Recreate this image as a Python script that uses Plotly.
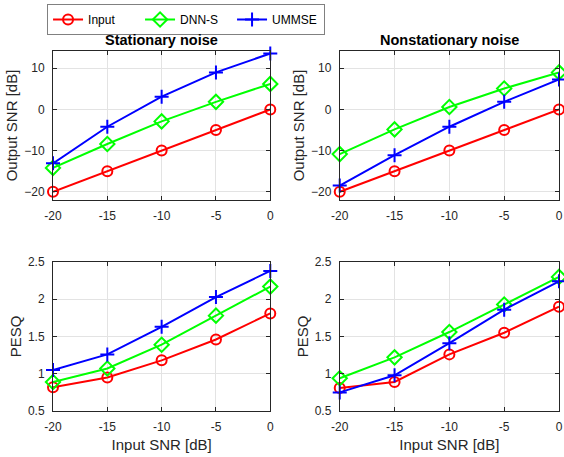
import plotly.graph_objects as go

input_snr = [-20, -15, -10, -5, 0]

# Output SNR [dB]
stat_input = [-20, -15, -10, -5, 0]
stat_dnn = [-14.2, -8.4, -2.9, 1.85, 6.2]
stat_ummse = [-13.1, -4.2, 3.1, 9.0, 13.6]

nonstat_input = [-20, -15, -10, -5, 0]
nonstat_dnn = [-10.85, -4.85, 0.6, 5.1, 9.0]
nonstat_ummse = [-18.5, -11.1, -4.2, 1.85, 7.3]

# PESQ
pesq_stat_input = [0.82, 0.95, 1.18, 1.46, 1.81]
pesq_stat_dnn = [0.89, 1.07, 1.39, 1.78, 2.17]
pesq_stat_ummse = [1.05, 1.26, 1.63, 2.03, 2.38]

pesq_nonstat_input = [0.81, 0.89, 1.26, 1.55, 1.90]
pesq_nonstat_dnn = [0.94, 1.22, 1.56, 1.93, 2.30]
pesq_nonstat_ummse = [0.75, 0.98, 1.41, 1.86, 2.24]

series_names = ["Input", "DNN-S", "UMMSE"]
colors = ["#FF0000", "#00FF00", "#0000FF"]
symbols = ["circle-open", "diamond-open", "cross-thin-open"]
msizes = [10, 11, 10]

panels = [
    ("x", "y", [stat_input, stat_dnn, stat_ummse]),
    ("x2", "y2", [nonstat_input, nonstat_dnn, nonstat_ummse]),
    ("x3", "y3", [pesq_stat_input, pesq_stat_dnn, pesq_stat_ummse]),
    ("x4", "y4", [pesq_nonstat_input, pesq_nonstat_dnn, pesq_nonstat_ummse]),
]

fig = go.Figure()
for pi, (xa, ya, data) in enumerate(panels):
    for si, vals in enumerate(data):
        fig.add_trace(go.Scatter(
            x=input_snr, y=vals, xaxis=xa, yaxis=ya,
            mode="lines+markers", name=series_names[si],
            showlegend=(pi == 0), cliponaxis=False,
            line=dict(color=colors[si], width=2),
            marker=dict(symbol=symbols[si], size=msizes[si],
                        color=colors[si], line=dict(color=colors[si], width=2)),
        ))

W, H = 564, 457
ml, mr, mt, mb = 53, 1, 51, 46
pw, ph = W - ml - mr, H - mt - mb

def px_x(p):
    return (p - ml) / pw

def px_y(p):
    return (H - mb - p) / ph

xd_left = [px_x(53), px_x(272)]
xd_right = [px_x(342), px_x(563)]
yd_top = [px_y(200), px_y(51)]
yd_bot = [px_y(411), px_y(262)]

axcol = "#262626"
font_family = "Liberation Sans, Arial, sans-serif"

def xaxis(domain, anchor, title=None):
    d = dict(domain=domain, anchor=anchor, range=[-20, 0],
             tickvals=input_snr, ticktext=[str(v) for v in input_snr],
             showline=True, mirror="ticks", linecolor=axcol, linewidth=1,
             ticks="inside", ticklen=4, tickcolor=axcol, ticklabelstandoff=5,
             showgrid=True, gridcolor="#e3e3e3", zeroline=False,
             tickfont=dict(size=12, color=axcol, family=font_family))
    if title:
        d["title"] = dict(text=title, font=dict(size=15, color=axcol, family=font_family), standoff=6)
    return d

def yaxis(domain, anchor, rng, tickvals, title):
    return dict(domain=domain, anchor=anchor, range=rng, tickvals=tickvals,
                showline=True, mirror="ticks", linecolor=axcol, linewidth=1,
                ticks="inside", ticklen=4, tickcolor=axcol, ticklabelstandoff=5,
                showgrid=True, gridcolor="#e3e3e3", zeroline=False,
                tickfont=dict(size=12, color=axcol, family=font_family),
                title=dict(text=title, font=dict(size=15, color=axcol, family=font_family), standoff=2))

snr_ticks = [-20, -10, 0, 10]
pesq_ticks = [0.5, 1, 1.5, 2, 2.5]

fig.update_layout(
    width=W, height=H,
    margin=dict(l=ml, r=mr, t=mt, b=mb),
    paper_bgcolor="white", plot_bgcolor="white",
    font=dict(family=font_family, color=axcol),
    xaxis=xaxis(xd_left, "y"),
    yaxis=yaxis(yd_top, "x", [-22, 14.2], snr_ticks, "Output SNR [dB]"),
    xaxis2=xaxis(xd_right, "y2"),
    yaxis2=yaxis(yd_top, "x2", [-22, 14.2], snr_ticks, "Output SNR [dB]"),
    xaxis3=xaxis(xd_left, "y3", "Input SNR [dB]"),
    yaxis3=yaxis(yd_bot, "x3", [0.5, 2.5], pesq_ticks, "PESQ"),
    xaxis4=xaxis(xd_right, "y4", "Input SNR [dB]"),
    yaxis4=yaxis(yd_bot, "x4", [0.5, 2.5], pesq_ticks, "PESQ"),
    legend=dict(orientation="h", x=px_x(47), y=px_y(4), xanchor="left", yanchor="top",
                bordercolor="#808080", borderwidth=1, bgcolor="white",
                font=dict(size=12, color="#000000", family=font_family),
                entrywidth=47, entrywidthmode="pixels", tracegroupgap=0),
    showlegend=True,
)

for txt, dom in [("Stationary noise", xd_left), ("Nonstationary noise", xd_right)]:
    fig.add_annotation(text="<b>" + txt + "</b>", xref="paper", yref="paper",
                       x=(dom[0] + dom[1]) / 2, y=px_y(40), xanchor="center", yanchor="middle",
                       showarrow=False, font=dict(size=14.5, color="#000000", family=font_family))

fig.write_html("out.html", config={"displayModeBar": False},
               post_script="document.body.style.margin='0';document.body.style.overflow='hidden';")
